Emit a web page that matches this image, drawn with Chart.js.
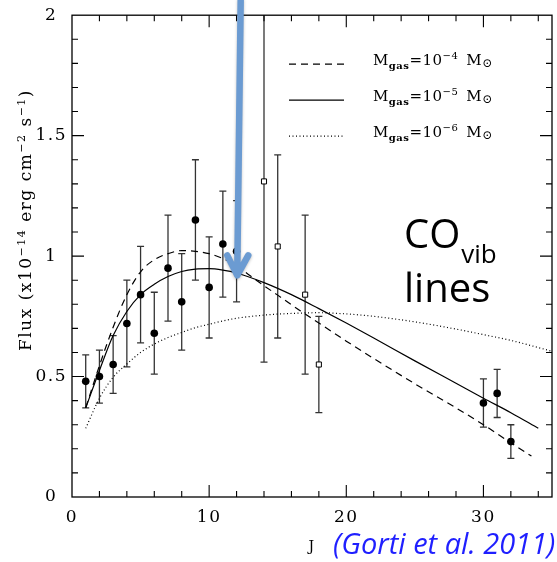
<!DOCTYPE html>
<html>
<head>
  <meta charset="UTF-8">
  <title>CO vib lines</title>
  <script src="https://cdn.jsdelivr.net/npm/chart.js"></script>
  <style>
    html, body { margin: 0; padding: 0; background: #fff; }
    #wrap { width: 557px; height: 562px; position: relative; }
  </style>
</head>
<body>
  <div id="wrap"><canvas id="fluxChart"></canvas></div>
  <script>
    // filled circles: J, flux, 1-sigma error
    const circJ = [1, 2, 3, 4, 5, 6, 7, 8, 9, 10, 11, 12, 30, 31, 32];
    const circFlux = [0.48, 0.50, 0.55, 0.72, 0.84, 0.68, 0.95, 0.81, 1.15, 0.87, 1.05, 1.02, 0.39, 0.43, 0.23];
    const circErr = [0.11, 0.11, 0.12, 0.18, 0.20, 0.17, 0.22, 0.20, 0.25, 0.21, 0.22, 0.21, 0.10, 0.10, 0.07];

    // open squares
    const sqJ = [14, 15, 17, 18];
    const sqFlux = [1.31, 1.04, 0.84, 0.55];
    const sqErr = [0.75, 0.38, 0.33, 0.20];

    // model curves, Mgas = 1e-4, 1e-5, 1e-6 Msun
    const dashJ = [1, 2, 3, 4, 5, 6, 7, 8, 9, 10, 11, 12, 13, 14, 15, 16, 17, 18, 20, 22, 25, 28, 30, 32, 33.5];
    const dashFlux = [0.37, 0.545, 0.705, 0.84, 0.935, 0.985, 1.01, 1.023, 1.02, 1.01, 0.99, 0.96, 0.918, 0.877, 0.838, 0.798, 0.76, 0.722, 0.647, 0.575, 0.47, 0.37, 0.30, 0.225, 0.17];
    const solidJ = [1, 2, 3, 4, 5, 6, 7, 8, 9, 10, 11, 12, 14, 16, 18, 20, 22, 25, 28, 30, 32, 34];
    const solidFlux = [0.37, 0.525, 0.67, 0.77, 0.84, 0.883, 0.915, 0.936, 0.946, 0.948, 0.942, 0.93, 0.89, 0.84, 0.782, 0.722, 0.66, 0.565, 0.472, 0.41, 0.35, 0.285];
    const dotJ = [1, 2, 3, 4, 5, 6, 7, 8, 9, 10, 11, 12, 14, 16, 18, 20, 22, 25, 28, 30, 32, 35];
    const dotFlux = [0.285, 0.41, 0.497, 0.552, 0.60, 0.635, 0.662, 0.683, 0.703, 0.717, 0.731, 0.742, 0.755, 0.762, 0.765, 0.76, 0.75, 0.727, 0.697, 0.674, 0.65, 0.605];
    const modelExp = ['\u22124', '\u22125', '\u22126'];

    const xTicks = [0, 10, 20, 30];
    const yTicks = [0, 0.5, 1, 1.5, 2];

    // arrow pointing at J=12
    const arrowFrom = { x: 12.3, y: 2.06 };
    const arrowTo = { x: 12.05, y: 0.92 };

    const serif = '"DejaVu Serif", serif';
    const pts = (xs, ys) => xs.map((v, i) => ({ x: v, y: ys[i] }));

    // wide letter spacing for the axis text
    const spacing = {
      id: 'spacing',
      beforeLayout(chart) { chart.ctx.letterSpacing = '1.5px'; },
      beforeDraw(chart) { chart.ctx.letterSpacing = '1.5px'; }
    };

    // inward ticks on all four sides plus the box
    const frameTicks = {
      id: 'frameTicks',
      afterDatasetsDraw(chart) {
        const { ctx, chartArea: a, scales: { x, y } } = chart;
        ctx.save();
        ctx.strokeStyle = '#000';
        ctx.lineWidth = 1.3;
        ctx.strokeRect(a.left, a.top, a.right - a.left, a.bottom - a.top);
        ctx.lineWidth = 1.1;
        ctx.beginPath();
        for (let v = 2; v < 35; v += 2) {
          const px = x.getPixelForValue(v);
          const len = v % 10 === 0 ? 12 : 6;
          ctx.moveTo(px, a.bottom); ctx.lineTo(px, a.bottom - len);
          ctx.moveTo(px, a.top); ctx.lineTo(px, a.top + len);
        }
        for (let i = 1; i < 20; i++) {
          const py = y.getPixelForValue(i / 10);
          const len = i % 5 === 0 ? 12 : 6;
          ctx.moveTo(a.left, py); ctx.lineTo(a.left + len, py);
          ctx.moveTo(a.right, py); ctx.lineTo(a.right - len, py);
        }
        ctx.stroke();
        ctx.restore();
      }
    };

    const errorBars = {
      id: 'errorBars',
      beforeDatasetsDraw(chart) {
        const { ctx, chartArea: a, scales: { x, y } } = chart;
        ctx.save();
        ctx.beginPath();
        ctx.rect(a.left, a.top, a.right - a.left, a.bottom - a.top);
        ctx.clip();
        ctx.strokeStyle = '#333';
        ctx.lineWidth = 1.3;
        chart.data.datasets.forEach(ds => {
          if (!ds.errors) return;
          ds.data.forEach((p, i) => {
            const px = x.getPixelForValue(p.x);
            const top = y.getPixelForValue(p.y + ds.errors[i]);
            const bot = y.getPixelForValue(p.y - ds.errors[i]);
            ctx.beginPath();
            ctx.moveTo(px, top); ctx.lineTo(px, bot);
            ctx.moveTo(px - 3.5, top); ctx.lineTo(px + 3.5, top);
            ctx.moveTo(px - 3.5, bot); ctx.lineTo(px + 3.5, bot);
            ctx.stroke();
          });
        });
        ctx.restore();
      }
    };

    // text runs: [text, size, dy, weight]
    function drawRuns(ctx, x, y, runs, family, measureOnly) {
      let cx = x;
      runs.forEach(([t, size, dy, weight]) => {
        ctx.font = `${weight || 'normal'} ${size}px ${family}`;
        if (!measureOnly) ctx.fillText(t, cx, y + dy);
        cx += ctx.measureText(t).width;
      });
      return cx - x;
    }

    const annotations = {
      id: 'annotations',
      afterDraw(chart) {
        const { ctx, chartArea: a, scales: { x, y } } = chart;
        const modelSets = chart.data.datasets.filter(d => d.model);
        ctx.save();
        ctx.fillStyle = '#000';
        ctx.textBaseline = 'alphabetic';
        ctx.letterSpacing = '0.5px';

        // legend
        modelSets.forEach((ds, i) => {
          const ly = a.top + 49 + i * 36;
          ctx.save();
          ctx.strokeStyle = '#000';
          ctx.lineWidth = ds.borderWidth;
          ctx.setLineDash(ds.borderDash || []);
          ctx.beginPath();
          ctx.moveTo(a.right - 263, ly);
          ctx.lineTo(a.right - 208, ly);
          ctx.stroke();
          ctx.restore();
          drawRuns(ctx, a.right - 179, ly + 1, [
            ['M', 15, 0], ['gas', 10, 4, 'bold'], ['=10', 15, 0],
            [modelExp[i], 10, -6], ['\u2002M', 15, 0], ['\u2299', 12, 2]
          ], serif);
        });

        // y axis title
        ctx.save();
        ctx.letterSpacing = '1.5px';
        ctx.translate(31, 220);
        ctx.rotate(-Math.PI / 2);
        const titleRuns = [
          ['Flux (x10', 17, 0], ['\u221214', 11, -6], [' erg cm', 17, 0],
          ['\u22122', 11, -6], [' s', 17, 0], ['\u22121', 11, -6], [')', 17, 0]
        ];
        const w = drawRuns(ctx, 0, 0, titleRuns, serif, true);
        drawRuns(ctx, -w / 2, 0, titleRuns, serif);
        ctx.restore();

        ctx.letterSpacing = '0px';
        // label inside the plot
        const sans = '"Open Sans", sans-serif';
        let cx = 404;
        ctx.font = `40px ${sans}`;
        ctx.fillText('CO', cx, 248);
        cx += ctx.measureText('CO').width + 1;
        ctx.font = `26px ${sans}`;
        ctx.fillText('vib', cx, 263);
        ctx.font = `40px ${sans}`;
        ctx.fillText('lines', 404, 302);

        // reference
        ctx.fillStyle = '#1f1fff';
        ctx.font = `italic 29px ${sans}`;
        ctx.fillText('(Gorti et al. 2011)', 333, 554);

        // blue arrow
        const x0 = x.getPixelForValue(arrowFrom.x), y0 = y.getPixelForValue(arrowFrom.y);
        const x1 = x.getPixelForValue(arrowTo.x), y1 = y.getPixelForValue(arrowTo.y);
        ctx.strokeStyle = '#6b9bd2';
        ctx.lineWidth = 6.5;
        ctx.lineCap = 'round';
        ctx.lineJoin = 'round';
        ctx.shadowColor = 'rgba(0,0,0,0.25)';
        ctx.shadowBlur = 3;
        ctx.shadowOffsetY = 1;
        ctx.beginPath();
        ctx.moveTo(x0, y0);
        ctx.lineTo(x1, y1 - 2);
        ctx.moveTo(x1 - 10, y1 - 20);
        ctx.lineTo(x1, y1);
        ctx.lineTo(x1 + 11, y1 - 20);
        ctx.stroke();
        ctx.restore();
      }
    };

    new Chart(document.getElementById('fluxChart'), {
      type: 'scatter',
      data: {
        datasets: [
          {
            label: 'Mgas 1e-4', model: true, data: pts(dashJ, dashFlux), showLine: true,
            borderColor: '#000', borderWidth: 1.2, borderDash: [7, 5], pointRadius: 0,
            cubicInterpolationMode: 'monotone'
          },
          {
            label: 'Mgas 1e-5', model: true, data: pts(solidJ, solidFlux), showLine: true,
            borderColor: '#000', borderWidth: 1.2, pointRadius: 0,
            cubicInterpolationMode: 'monotone'
          },
          {
            label: 'Mgas 1e-6', model: true, data: pts(dotJ, dotFlux), showLine: true,
            borderColor: '#000', borderWidth: 1.2, borderDash: [1, 2.5], pointRadius: 0,
            cubicInterpolationMode: 'monotone'
          },
          {
            label: 'circles', data: pts(circJ, circFlux), errors: circErr,
            pointStyle: 'circle', pointRadius: 3.8, backgroundColor: '#000', borderColor: '#000', borderWidth: 0
          },
          {
            label: 'squares', data: pts(sqJ, sqFlux), errors: sqErr,
            pointStyle: 'rect', pointRadius: 3.6, backgroundColor: '#fff', borderColor: '#000', borderWidth: 1
          }
        ]
      },
      options: {
        responsive: true,
        maintainAspectRatio: false,
        animation: false,
        layout: { padding: { top: 13, right: 1, left: 0, bottom: 0 } },
        plugins: { legend: { display: false }, tooltip: { enabled: false } },
        scales: {
          x: {
            type: 'linear', min: 0, max: 35,
            grid: { display: false, drawTicks: false },
            border: { display: false },
            afterFit: s => { s.height = 65; },
            afterBuildTicks: s => { s.ticks = xTicks.map(v => ({ value: v })); },
            ticks: { padding: 10, maxRotation: 0, color: '#000', font: { family: serif, size: 17 }, callback: v => String(v) },
            title: { display: true, text: 'J', color: '#000', font: { family: serif, size: 14 }, padding: { top: 0, bottom: 6 } }
          },
          y: {
            type: 'linear', min: 0, max: 2,
            grid: { display: false, drawTicks: false },
            border: { display: false },
            afterFit: s => { s.width = 72; },
            afterBuildTicks: s => { s.ticks = yTicks.map(v => ({ value: v })); },
            ticks: { padding: 5, crossAlign: 'center', color: '#000', font: { family: serif, size: 17 }, callback: v => String(v) }
          }
        }
      },
      plugins: [spacing, errorBars, frameTicks, annotations]
    });
  </script>
</body>
</html>
